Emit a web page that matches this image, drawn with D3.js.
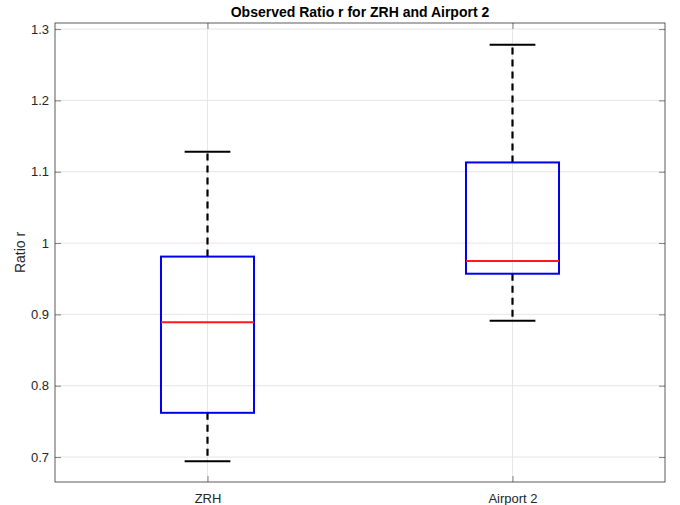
<!DOCTYPE html>
<html><head><meta charset="utf-8">
<script src="https://cdn.jsdelivr.net/npm/d3@7"></script>
<style>body{margin:0;background:#fff}svg{display:block}text{font-family:"Liberation Sans",Arial,sans-serif}</style>
</head><body><svg id="c" width="680" height="505"></svg>
<script>
const categories = ["ZRH", "Airport 2"];
const lowerWhisker = [0.694, 0.891];
const q1 = [0.762, 0.957];
const median = [0.889, 0.975];
const q3 = [0.981, 1.113];
const upperWhisker = [1.128, 1.278];
const yTicks = [0.7, 0.8, 0.9, 1, 1.1, 1.2, 1.3];

const svg = d3.select("#c");
const m = {l:55, r:15, t:23, b:23};
const W = 680, H = 505;
const x = d3.scaleLinear().domain([0.5, 2.5]).range([m.l, W - m.r]);
const y = d3.scaleLinear().domain([0.665, 1.3085]).range([H - m.b, m.t]);
const pos = categories.map((c,i)=>i+1);

// grid
const g = svg.append("g");
g.selectAll(".gy").data(yTicks).enter().append("line")
  .attr("x1", m.l).attr("x2", W-m.r).attr("y1", d=>y(d)).attr("y2", d=>y(d))
  .attr("stroke", "#e6e6e6").attr("stroke-width", 1);
g.selectAll(".gx").data(pos).enter().append("line")
  .attr("y1", m.t).attr("y2", H-m.b).attr("x1", d=>x(d)).attr("x2", d=>x(d))
  .attr("stroke", "#e6e6e6").attr("stroke-width", 1);

// axes
const tl = 6;
const ax = svg.append("g").attr("transform", `translate(0,${H-m.b})`)
  .call(d3.axisBottom(x).tickValues(pos).tickFormat((d,i)=>categories[i]).tickSizeInner(-tl).tickSizeOuter(0).tickPadding(12));
const ay = svg.append("g").attr("transform", `translate(${m.l},0)`)
  .call(d3.axisLeft(y).tickValues(yTicks).tickFormat(d3.format("")).tickSizeInner(-tl).tickSizeOuter(0).tickPadding(6));
const axT = svg.append("g").attr("transform", `translate(0,${m.t})`)
  .call(d3.axisTop(x).tickValues(pos).tickFormat("").tickSizeInner(-tl).tickSizeOuter(0));
const ayR = svg.append("g").attr("transform", `translate(${W-m.r},0)`)
  .call(d3.axisRight(y).tickValues(yTicks).tickFormat("").tickSizeInner(-tl).tickSizeOuter(0));
[ax, ay, axT, ayR].forEach(a=>{
  a.select(".domain").remove();
  a.selectAll("line").attr("stroke", "#333").attr("stroke-width", 0.6);
  a.selectAll("text").attr("fill", "#262626").style("font-size", "13px");
});
svg.append("rect").attr("x", m.l).attr("y", m.t).attr("width", W-m.l-m.r).attr("height", H-m.t-m.b)
  .attr("fill", "none").attr("stroke", "#333").attr("stroke-width", 0.8);

// boxes
const bw = 0.305, cw = 0.15;
const b = svg.append("g");
pos.forEach((p,i)=>{
  b.append("line").attr("x1", x(p)).attr("x2", x(p)).attr("y1", y(q3[i])).attr("y2", y(upperWhisker[i]))
    .attr("stroke", "#000").attr("stroke-width", 2.2).attr("stroke-dasharray", "7,5");
  b.append("line").attr("x1", x(p)).attr("x2", x(p)).attr("y1", y(q1[i])).attr("y2", y(lowerWhisker[i]))
    .attr("stroke", "#000").attr("stroke-width", 2.2).attr("stroke-dasharray", "7,5");
  [upperWhisker[i], lowerWhisker[i]].forEach(v=>{
    b.append("line").attr("x1", x(p-cw/2)).attr("x2", x(p+cw/2)).attr("y1", y(v)).attr("y2", y(v))
      .attr("stroke", "#000").attr("stroke-width", 2);
  });
  b.append("rect").attr("x", x(p-bw/2)).attr("width", x(p+bw/2)-x(p-bw/2))
    .attr("y", y(q3[i])).attr("height", y(q1[i])-y(q3[i]))
    .attr("fill", "none").attr("stroke", "#0000ee").attr("stroke-width", 2);
  b.append("line").attr("x1", x(p-bw/2)).attr("x2", x(p+bw/2)).attr("y1", y(median[i])).attr("y2", y(median[i]))
    .attr("stroke", "#ff1a1a").attr("stroke-width", 2);
});

svg.append("text").attr("x", (m.l+W-m.r)/2).attr("y", 17).attr("text-anchor", "middle")
  .style("font-size", "14px").style("font-weight", "bold").attr("fill", "#000").text("Observed Ratio r for ZRH and Airport 2");
svg.append("text").attr("transform", `translate(25,${(m.t+H-m.b)/2}) rotate(-90)`).attr("text-anchor", "middle")
  .style("font-size", "14px").attr("fill", "#262626").text("Ratio r");
</script></body></html>
